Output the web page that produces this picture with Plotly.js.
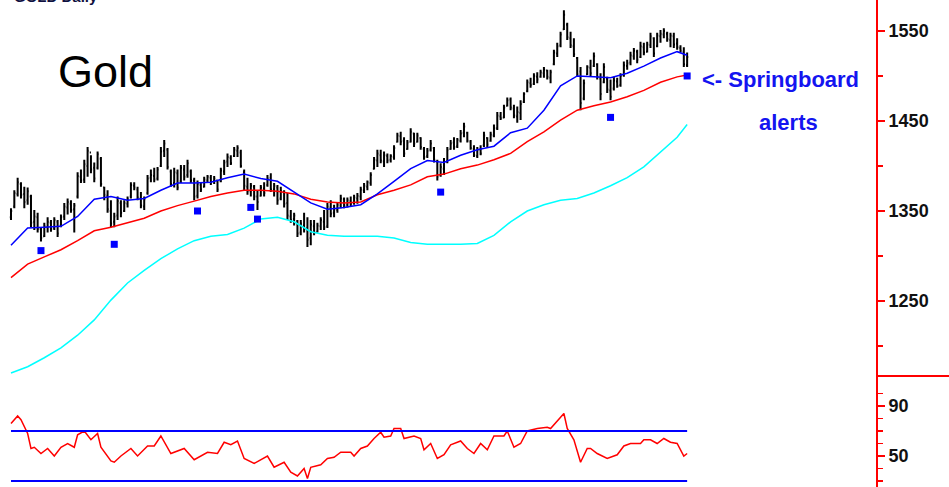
<!DOCTYPE html>
<html>
<head>
<meta charset="utf-8">
<script src="https://cdn.plot.ly/plotly-3.0.1.min.js"></script>
<style>
body { margin: 0; background: #fff; }
#goldPlot { width: 949px; height: 487px; }
</style>
</head>
<body>
<div id="goldPlot"></div>
<script>
// daily bars (bar number, price)
var highs = [1353,1373,1387,1382,1377,1376,1368,1351,1348,1332,
1337,1343,1340,1343,1340,1346,1359,1364,1362,1359,
1393,1396,1407,1421,1412,1404,1416,1410,1377,1373,
1362,1348,1366,1362,1362,1366,1382,1382,1377,1371,
1366,1390,1396,1398,1399,1421,1429,1420,1396,1398,
1396,1401,1401,1407,1396,1387,1384,1382,1388,1390,
1390,1389,1384,1398,1407,1414,1412,1421,1423,1418,
1396,1387,1381,1379,1373,1379,1382,1390,1392,1381,
1379,1377,1373,1370,1351,1348,1340,1340,1348,1343,
1340,1340,1337,1343,1351,1359,1362,1357,1360,1368,
1365,1365,1366,1368,1370,1377,1381,1384,1393,1410,
1418,1418,1416,1414,1413,1423,1437,1438,1432,1429,
1442,1437,1437,1432,1421,1420,1429,1421,1407,1403,
1409,1421,1429,1432,1431,1440,1448,1438,1429,1423,
1421,1423,1438,1432,1438,1446,1460,1460,1468,1476,
1476,1468,1466,1473,1482,1496,1498,1503,1504,1507,
1510,1507,1507,1529,1537,1549,1573,1559,1549,1542,
1521,1510,1496,1512,1518,1526,1514,1503,1514,1499,
1496,1499,1498,1503,1516,1518,1527,1531,1529,1538,
1537,1538,1548,1543,1548,1551,1553,1549,1548,1548,
1542,1534,1532,1526];

var lows = [1340,1353,1366,1364,1353,1357,1332,1329,1326,1316,
1321,1326,1327,1329,1321,1332,1340,1346,1348,1326,
1364,1381,1381,1388,1392,1382,1396,1377,1362,1348,
1332,1332,1340,1343,1349,1354,1364,1373,1362,1353,
1351,1368,1382,1382,1384,1399,1410,1396,1377,1376,
1373,1381,1384,1387,1381,1362,1364,1371,1376,1381,
1379,1380,1371,1382,1390,1399,1401,1410,1410,1398,
1373,1368,1366,1362,1351,1366,1366,1377,1371,1366,
1357,1362,1354,1340,1337,1334,1321,1323,1326,1310,
1312,1323,1326,1329,1329,1331,1343,1343,1348,1353,
1353,1354,1355,1357,1358,1362,1370,1373,1378,1396,
1399,1403,1399,1403,1404,1407,1426,1423,1410,1418,
1426,1421,1426,1418,1407,1409,1416,1404,1384,1388,
1390,1403,1418,1418,1420,1426,1432,1426,1418,1410,
1409,1412,1421,1421,1427,1432,1440,1451,1453,1466,
1462,1453,1448,1451,1470,1482,1487,1490,1492,1498,
1498,1496,1492,1512,1521,1532,1551,1540,1531,1521,
1499,1462,1473,1501,1499,1510,1496,1473,1492,1481,
1473,1484,1487,1488,1499,1507,1512,1518,1514,1520,
1523,1526,1531,1521,1532,1537,1542,1538,1532,1531,
1529,1526,1510,1510];

var opens = [1343,1355,1369,1380,1369,1362,1366,1338,1343,1330,
1322,1332,1337,1331,1338,1334,1344,1354,1358,1352,
1366,1388,1385,1400,1415,1398,1398,1408,1376,1367,
1350,1338,1345,1359,1350,1358,1366,1378,1374,1364,
1355,1370,1387,1389,1386,1400,1417,1418,1394,1381,
1392,1383,1396,1390,1394,1384,1367,1379,1377,1384,
1387,1383,1384,1383,1394,1405,1409,1411,1417,1415,
1393,1377,1372,1377,1366,1367,1375,1379,1387,1374,
1376,1364,1371,1359,1344,1341,1339,1326,1334,1331,
1320,1333,1327,1333,1338,1333,1354,1348,1351,1356,
1363,1357,1361,1359,1364,1366,1373,1377,1381,1397,
1406,1412,1405,1411,1407,1410,1427,1433,1428,1419,
1427,1436,1427,1431,1419,1411,1418,1420,1405,1390,
1397,1405,1419,1426,1422,1428,1437,1437,1427,1419,
1411,1418,1423,1431,1428,1434,1442,1455,1454,1467,
1474,1464,1455,1459,1471,1483,1492,1491,1499,1499,
1503,1506,1498,1513,1525,1534,1552,1557,1542,1533,
1520,1505,1475,1502,1509,1511,1513,1497,1493,1497,
1484,1486,1494,1490,1501,1511,1515,1522,1527,1521,
1532,1527,1534,1542,1533,1544,1546,1547,1540,1544,
1536,1531,1527,1512];

var closes = [1350,1370,1382,1368,1360,1372,1337,1344,1330,1320,
1333,1338,1330,1340,1325,1343,1355,1360,1351,1356,
1389,1384,1402,1417,1396,1386,1413,1380,1368,1352,
1336,1344,1361,1348,1359,1363,1379,1376,1365,1356,
1363,1386,1390,1385,1396,1416,1425,1399,1380,1393,
1376,1398,1388,1403,1384,1366,1380,1374,1385,1388,
1382,1386,1374,1395,1404,1410,1403,1418,1420,1400,
1378,1372,1378,1366,1360,1376,1370,1386,1374,1378,
1362,1372,1358,1345,1340,1345,1325,1336,1330,1318,
1335,1326,1334,1340,1332,1355,1347,1352,1357,1364,
1356,1362,1358,1365,1367,1374,1378,1382,1390,1407,
1414,1406,1412,1406,1411,1420,1434,1427,1414,1426,
1438,1425,1434,1421,1410,1417,1425,1407,1388,1399,
1392,1418,1425,1421,1429,1436,1444,1428,1420,1412,
1418,1414,1434,1424,1435,1442,1456,1453,1465,1473,
1465,1456,1460,1469,1480,1493,1490,1500,1496,1504,
1507,1499,1504,1526,1533,1546,1568,1543,1534,1524,
1502,1470,1492,1510,1503,1522,1499,1480,1510,1485,
1477,1495,1489,1500,1512,1514,1523,1528,1518,1533,
1526,1535,1544,1525,1545,1547,1550,1541,1545,1535,
1532,1528,1513,1521];

var barNo = [];
closes.forEach(function (c, i) {
    barNo.push(i);
});

// moving averages, read every 5 bars
var maIdx = [0,5,10,15,20,25,30,35,40,45,50,55,60,65,70,75,80,85,90,95,100,
105,110,115,120,125,130,135,140,145,150,155,160,165,170,175,180,185,190,195,200,203];
var blueMa = [1312,1331,1332,1333,1344,1363,1366,1362,1364,1373,1381,1381,1382,1387,1391,1386,1383,1371,1359,1352,1354,
1357,1369,1383,1397,1406,1404,1412,1418,1422,1437,1442,1462,1489,1500,1499,1498,1503,1511,1520,1527,1523];
var redMa = [1276,1291,1299,1307,1317,1328,1332,1337,1342,1350,1356,1361,1366,1370,1373,1373,1372,1369,1363,1360,1359,
1360,1368,1373,1379,1388,1391,1397,1401,1407,1414,1427,1438,1451,1462,1467,1471,1477,1484,1493,1499,1501];
var cyanMa = [1170,1177,1187,1198,1212,1229,1251,1270,1284,1297,1308,1317,1322,1324,1331,1341,1343,1338,1327,1323,1322,
1322,1322,1320,1315,1313,1313,1313,1314,1323,1338,1350,1357,1362,1364,1370,1378,1387,1399,1416,1432,1446];

// springboard alerts
var alertIdx = [9, 31, 56, 72, 74, 129, 180, 203];
var alertPrice = [1306, 1313, 1350, 1354, 1341, 1371, 1454, 1500];

// lower panel oscillator
var rsiIdx = [0,2,3,4,5,6,7,9,11,13,15,17,19,20,22,24,26,27,30,31,33,36,38,41,43,45,48,52,55,59,
62,64,66,68,70,73,77,79,82,84,86,88,89,90,93,95,97,99,102,103,105,107,109,111,112,114,115,117,118,121,
123,124,126,128,130,132,135,137,139,141,143,145,148,149,151,153,155,158,161,162,166,167,169,171,173,174,176,179,182,184,
186,189,190,192,194,196,198,200,202,203];
var rsiVal = [76,82,79,73,68,56,57,52,56,50,57,60,57,67,70,63,68,57,46,45,50,56,50,58,58,66,52,56,47,53,
52,61,59,62,48,44,50,41,45,37,34,40,32,41,43,48,49,53,53,50,56,58,64,69,65,66,72,72,64,66,
64,55,60,48,51,59,62,56,52,60,55,66,66,70,57,60,70,72,73,72,84,72,63,45,56,56,52,48,51,58,
60,60,63,63,60,64,61,60,50,52];
var rsiBands = [70, 30];

// draw plot
var bars = {
    type: 'ohlc',
    x: barNo,
    open: opens,
    high: highs,
    low: lows,
    close: closes,
    increasing: {line: {color: '#000000', width: 2}},
    decreasing: {line: {color: '#000000', width: 2}},
    tickwidth: 0.35,
    hoverinfo: 'skip',
    xaxis: 'x',
    yaxis: 'y'
};

function maLine(vals, color) {
    return {
        type: 'scatter',
        mode: 'lines',
        x: maIdx,
        y: vals,
        line: {color: color, width: 1.5},
        hoverinfo: 'skip',
        xaxis: 'x',
        yaxis: 'y'
    };
}

var alerts = {
    type: 'scatter',
    mode: 'markers',
    x: alertIdx,
    y: alertPrice,
    marker: {symbol: 'square', size: 7, color: '#0000ff'},
    hoverinfo: 'skip',
    xaxis: 'x',
    yaxis: 'y'
};

var rsi = {
    type: 'scatter',
    mode: 'lines',
    x: rsiIdx,
    y: rsiVal,
    line: {color: '#ff0000', width: 1.5},
    hoverinfo: 'skip',
    xaxis: 'x',
    yaxis: 'y2'
};

var data = [maLine(cyanMa, '#00ffff'), maLine(redMa, '#ff0000'), maLine(blueMa, '#0000ff'), bars, alerts, rsi];

var split = 111 / 487;

var shapes = rsiBands.map(function (v) {
    return {type: 'line', xref: 'x', yref: 'y2', x0: 0, x1: barNo[barNo.length - 1], y0: v, y1: v,
        line: {color: '#0000ff', width: 2}};
});
shapes.push({type: 'line', xref: 'paper', yref: 'paper', x0: 1, x1: 1.1, y0: split, y1: split,
    line: {color: '#ff0000', width: 2}});

var axisFont = {family: 'Arial, "Liberation Sans", sans-serif', size: 18, color: '#111', weight: 700};

var layout = {
    width: 949,
    height: 487,
    margin: {l: 0, r: 73, t: 0, b: 0},
    paper_bgcolor: '#ffffff',
    plot_bgcolor: '#ffffff',
    showlegend: false,
    xaxis: {
        range: [-3.3, 259.7],
        visible: false,
        rangeslider: {visible: false},
        anchor: 'y2'
    },
    yaxis: {
        domain: [split, 1],
        range: [1166.7, 1584.4],
        side: 'right',
        anchor: 'x',
        showgrid: false,
        zeroline: false,
        showline: true,
        linecolor: '#ff0000',
        linewidth: 2,
        ticks: 'outside',
        ticklen: 7,
        tickwidth: 1.5,
        tickcolor: '#ff0000',
        tickvals: [1250, 1350, 1450, 1550],
        tickfont: axisFont,
        minor: {tickvals: [1200, 1300, 1400, 1500], ticks: 'outside', ticklen: 5, tickcolor: '#ff0000', tickwidth: 1.5}
    },
    yaxis2: {
        domain: [0, split],
        range: [25.2, 114],
        side: 'right',
        anchor: 'x',
        showgrid: false,
        zeroline: false,
        showline: true,
        linecolor: '#ff0000',
        linewidth: 2,
        ticks: 'outside',
        ticklen: 7,
        tickwidth: 1.5,
        tickcolor: '#ff0000',
        tickvals: [50, 90],
        tickfont: axisFont,
        minor: {tickvals: [30, 40, 60, 70, 80, 100], ticks: 'outside', ticklen: 5, tickcolor: '#ff0000', tickwidth: 1.5}
    },
    shapes: shapes,
    annotations: [
        {xref: 'paper', yref: 'paper', x: 12 / 876, y: 1, xanchor: 'left', yanchor: 'middle', yshift: 4,
            text: 'GOLD Daily', showarrow: false,
            font: {family: 'Arial, "Liberation Sans", sans-serif', size: 15, color: '#101040', weight: 700}},
        {xref: 'paper', yref: 'paper', x: 105 / 876, y: 1 - 72 / 487, xanchor: 'center', yanchor: 'middle',
            text: 'Gold', showarrow: false,
            font: {family: 'Arial, "Liberation Sans", sans-serif', size: 45, color: '#000'}},
        {xref: 'paper', yref: 'paper', x: 700 / 876, y: 1 - 79 / 487, xanchor: 'left', yanchor: 'middle',
            text: '<- Springboard', showarrow: false,
            font: {family: 'Arial, "Liberation Sans", sans-serif', size: 22, color: '#1414f0', weight: 700}},
        {xref: 'paper', yref: 'paper', x: 788 / 876, y: 1 - 122 / 487, xanchor: 'center', yanchor: 'middle',
            text: 'alerts', showarrow: false,
            font: {family: 'Arial, "Liberation Sans", sans-serif', size: 22, color: '#1414f0', weight: 700}}
    ]
};

Plotly.newPlot('goldPlot', data, layout, {staticPlot: true});
</script>
</body>
</html>
